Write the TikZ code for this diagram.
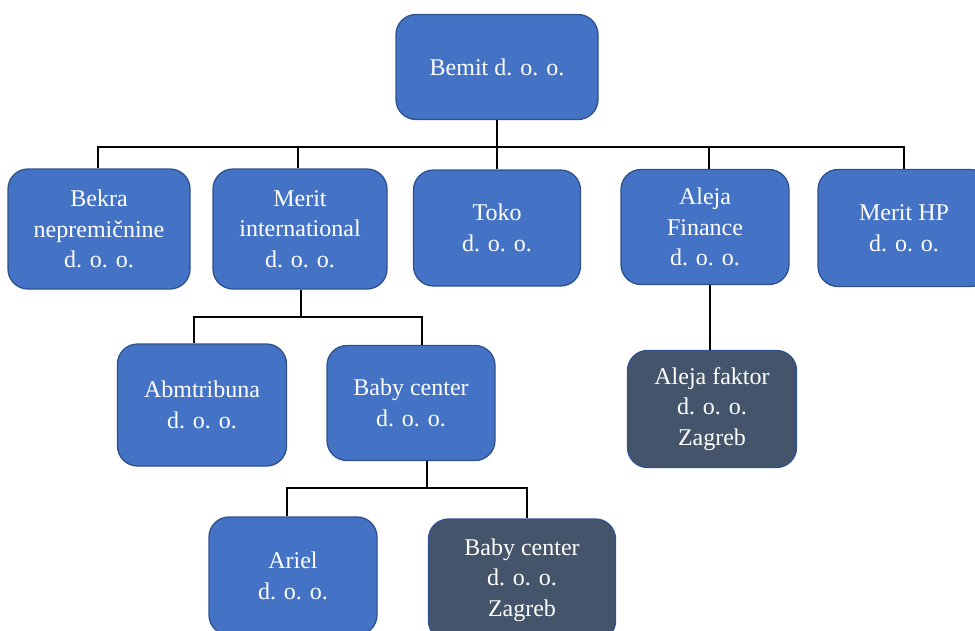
\documentclass[tikz,border=0pt]{standalone}
\usepackage{fontspec}
\setmainfont{Liberation Serif}
\definecolor{boxblue}{HTML}{4472C4}
\definecolor{boxedge}{HTML}{2F528F}
\definecolor{boxdark}{HTML}{44546A}
\tikzset{
  firm/.style={draw=boxedge, line width=1.3pt, fill=boxblue, rounded corners=20pt,
    text=white, align=center, inner sep=0pt, font=\fontsize{24}{30.5}\selectfont},
  branch/.style={firm, fill=boxdark},
  link/.style={line width=2pt, draw=black}
}
\begin{document}
\begin{tikzpicture}[x=1pt, y=-1pt]
  \useasboundingbox (0,0) rectangle (975,630);
  \clip (0,0) rectangle (975,630);
  % top level
  \node[firm, minimum width=202pt, minimum height=105pt] (bemit) at (497,67) {Bemit d. o. o.};
  % daughter companies
  \node[firm, minimum width=182pt, minimum height=120pt] (bekra) at (99,229) {Bekra\\nepremičnine\\d. o. o.};
  \node[firm, minimum width=174pt, minimum height=120pt] (merit) at (300,229) {Merit\\international\\d. o. o.};
  \node[firm, minimum width=167pt, minimum height=116pt] (toko) at (497,228) {Toko\\d. o. o.};
  \node[firm, minimum width=168pt, minimum height=115pt] (aleja) at (705,227) {Aleja\\Finance\\d. o. o.};
  \node[firm, minimum width=172pt, minimum height=117pt] (meritHP) at (904,228) {Merit HP\\d. o. o.};
  % under Merit international and Aleja Finance
  \node[firm, minimum width=169pt, minimum height=122pt] (abm) at (202,405) {Abmtribuna\\d. o. o.};
  \node[firm, minimum width=168pt, minimum height=115pt] (baby) at (411,403) {Baby center\\d. o. o.};
  \node[branch, minimum width=169pt, minimum height=117pt] (faktor) at (712,409) {Aleja faktor\\d. o. o.\\Zagreb};
  % under Baby center
  \node[firm, minimum width=168pt, minimum height=118pt] (ariel) at (293,576) {Ariel\\d. o. o.};
  \node[branch, minimum width=187pt, minimum height=122pt] (zagreb) at (522,580) {Baby center\\d. o. o.\\Zagreb};
  % connectors
  \coordinate (top) at (497,147);
  \coordinate (mid) at (301,317);
  \coordinate (low) at (427,488);
  \draw[link] (bemit) -- (toko);
  \draw[link] ([xshift=-1pt]bekra.north) |- (top) -| (meritHP.north);
  \draw[link] ([xshift=-2pt]merit.north) -- ([xshift=-2pt]merit.north |- top);
  \draw[link] ([xshift=4pt]aleja.north) -- ([xshift=4pt]aleja.north |- top);
  \draw[link] (mid) -- (mid |- merit.south);
  \draw[link] ([xshift=-8pt]abm.north) |- (mid) -| ([xshift=11pt]baby.north);
  \draw[link] ([xshift=-2pt]faktor.north) -- ([xshift=-2pt]faktor.north |- aleja.south);
  \draw[link] (low) -- (low |- baby.south);
  \draw[link] ([xshift=-6pt]ariel.north) |- (low) -| ([xshift=5pt]zagreb.north);
\end{tikzpicture}
\end{document}
